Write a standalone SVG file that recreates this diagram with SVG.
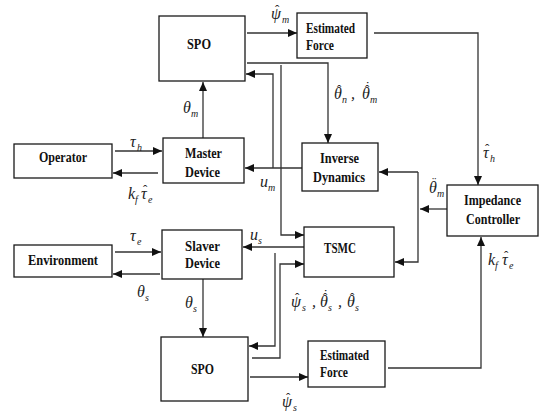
<svg xmlns="http://www.w3.org/2000/svg" width="550" height="418" viewBox="0 0 550 418">
<style>
.box{fill:#fff;stroke:#1a1a1a;stroke-width:1.3}
.lbl{font-family:"Liberation Serif","DejaVu Serif","Times New Roman",serif;font-weight:bold;font-size:15px;fill:#111}
.mid{text-anchor:middle}
.m{font-family:"Liberation Serif","DejaVu Serif","Times New Roman",serif;font-style:italic;font-size:16px;fill:#222}
.s{font-size:10px}
.ac{font-style:normal;font-size:13px}
.c{fill:none;stroke:#333;stroke-width:1.3}
.a{marker-end:url(#ah)}
</style>
<defs>
<marker id="ah" markerWidth="9" markerHeight="8" refX="9" refY="4" orient="auto" markerUnits="userSpaceOnUse">
<path d="M0,0 L9,4 L0,8 z" fill="#111"/>
</marker>
</defs>
<rect width="550" height="418" fill="#fff"/>
<g id="connectors">
<path class="c a" d="M247,33 H297"/>
<path class="c a" d="M247,63 H328 V143"/>
<path class="c a" d="M281,65 V235 H304"/>
<path class="c a" d="M302,168 H245"/>
<path class="c a" d="M273,168 V74 H246"/>
<path class="c a" d="M374,33 H478 V185"/>
<path class="c a" d="M203,138 V82"/>
<path class="c a" d="M115,151 H162"/>
<path class="c a" d="M158,173 H113"/>
<path class="c a" d="M447,209 H420"/>
<path class="c a" d="M418,172 H379"/>
<path class="c a" d="M418,172 V262 H395"/>
<path class="c a" d="M304,247 H243"/>
<path class="c a" d="M275,253 V346 H249"/>
<path class="c a" d="M252,358 H280 V264 H304"/>
<path class="c a" d="M250,377 H308"/>
<path class="c a" d="M388,368 H481 V237"/>
<path class="c a" d="M115,252 H161"/>
<path class="c a" d="M160,274 H113"/>
<path class="c a" d="M203,279 V337"/>
</g>
<g id="spo_master"><rect class="box" x="159" y="16" width="86" height="65"/><text class="lbl" x="187" y="49" textLength="24" lengthAdjust="spacingAndGlyphs">SPO</text></g>
<g id="est_force_master"><rect class="box" x="297" y="13" width="70" height="45"/><text class="lbl" x="306" y="33" textLength="49" lengthAdjust="spacingAndGlyphs">Estimated</text><text class="lbl" x="306" y="50" textLength="28" lengthAdjust="spacingAndGlyphs">Force</text></g>
<g id="operator"><rect class="box" x="14" y="144" width="98" height="34"/><text class="lbl" x="39" y="162" textLength="48" lengthAdjust="spacingAndGlyphs">Operator</text></g>
<g id="master_device"><rect class="box" x="163" y="138" width="81" height="45"/><text class="lbl" x="185" y="158" textLength="37" lengthAdjust="spacingAndGlyphs">Master</text><text class="lbl" x="185" y="177" textLength="35" lengthAdjust="spacingAndGlyphs">Device</text></g>
<g id="inverse_dynamics"><rect class="box" x="302" y="143" width="76" height="48"/><text class="lbl" x="320" y="163" textLength="39" lengthAdjust="spacingAndGlyphs">Inverse</text><text class="lbl" x="313" y="182" textLength="52" lengthAdjust="spacingAndGlyphs">Dynamics</text></g>
<g id="impedance_controller"><rect class="box" x="447" y="185" width="91" height="51"/><text class="lbl" x="464" y="205" textLength="57" lengthAdjust="spacingAndGlyphs">Impedance</text><text class="lbl" x="466" y="224" textLength="54" lengthAdjust="spacingAndGlyphs">Controller</text></g>
<g id="tsmc"><rect class="box" x="304" y="227" width="90" height="50"/><text class="lbl" x="324" y="253" textLength="32" lengthAdjust="spacingAndGlyphs">TSMC</text></g>
<g id="environment"><rect class="box" x="14" y="245" width="98" height="32"/><text class="lbl" x="28" y="265" textLength="70" lengthAdjust="spacingAndGlyphs">Environment</text></g>
<g id="slaver_device"><rect class="box" x="162" y="230" width="80" height="49"/><text class="lbl" x="185" y="251" textLength="35" lengthAdjust="spacingAndGlyphs">Slaver</text><text class="lbl" x="185" y="268" textLength="35" lengthAdjust="spacingAndGlyphs">Device</text></g>
<g id="spo_slave"><rect class="box" x="161" y="337" width="87" height="64"/><text class="lbl" x="191" y="374" textLength="23" lengthAdjust="spacingAndGlyphs">SPO</text></g>
<g id="est_force_slave"><rect class="box" x="308" y="341" width="77" height="46"/><text class="lbl" x="320" y="360" textLength="49" lengthAdjust="spacingAndGlyphs">Estimated</text><text class="lbl" x="320" y="377" textLength="28" lengthAdjust="spacingAndGlyphs">Force</text></g>
<g id="labels">
<text class="m"><tspan x="271" y="19">ψ</tspan><tspan class="ac" x="275" y="14">ˆ</tspan><tspan class="s" x="282" y="23">m</tspan></text>
<text class="m"><tspan x="334" y="99">θ</tspan><tspan class="ac" x="337" y="94">ˆ</tspan><tspan class="s" x="342" y="103">n</tspan><tspan x="351" y="99">,</tspan><tspan x="362" y="99">θ</tspan><tspan class="ac" x="365" y="94">ˆ</tspan><tspan class="ac" x="365.5" y="90">˙</tspan><tspan class="s" x="370" y="103">m</tspan></text>
<text class="m"><tspan x="183" y="113">θ</tspan><tspan class="s" x="191" y="117">m</tspan></text>
<text class="m"><tspan x="130" y="147">τ</tspan><tspan class="s" x="137" y="151">h</tspan></text>
<text class="m"><tspan x="128" y="199">k</tspan><tspan class="s" x="135" y="203">f</tspan><tspan x="141" y="199">τ</tspan><tspan class="ac" x="143" y="194">ˆ</tspan><tspan class="s" x="148" y="203">e</tspan></text>
<text class="m"><tspan x="260" y="187">u</tspan><tspan class="s" x="268" y="191">m</tspan></text>
<text class="m"><tspan x="483" y="158">τ</tspan><tspan class="ac" x="485" y="153">ˆ</tspan><tspan class="s" x="490" y="162">h</tspan></text>
<text class="m"><tspan x="429" y="193">θ</tspan><tspan class="ac" x="432" y="186">¨</tspan><tspan class="s" x="437" y="197">m</tspan></text>
<text class="m"><tspan x="250" y="240">u</tspan><tspan class="s" x="258" y="244">s</tspan></text>
<text class="m"><tspan x="130" y="241">τ</tspan><tspan class="s" x="137" y="245">e</tspan></text>
<text class="m"><tspan x="137" y="297">θ</tspan><tspan class="s" x="145" y="301">s</tspan></text>
<text class="m"><tspan x="185" y="308">θ</tspan><tspan class="s" x="193" y="312">s</tspan></text>
<text class="m"><tspan x="291" y="307">ψ</tspan><tspan class="ac" x="295" y="302">ˆ</tspan><tspan class="s" x="302" y="311">s</tspan><tspan x="312" y="307">,</tspan><tspan x="320" y="307">θ</tspan><tspan class="ac" x="323" y="302">ˆ</tspan><tspan class="ac" x="323.5" y="298">˙</tspan><tspan class="s" x="328" y="311">s</tspan><tspan x="338" y="307">,</tspan><tspan x="347" y="307">θ</tspan><tspan class="ac" x="350" y="302">ˆ</tspan><tspan class="s" x="355" y="311">s</tspan></text>
<text class="m"><tspan x="488" y="265">k</tspan><tspan class="s" x="495" y="269">f</tspan><tspan x="502" y="265">τ</tspan><tspan class="ac" x="504" y="260">ˆ</tspan><tspan class="s" x="509" y="269">e</tspan></text>
<text class="m"><tspan x="282" y="407">ψ</tspan><tspan class="ac" x="286" y="402">ˆ</tspan><tspan class="s" x="293" y="411">s</tspan></text>
</g>
</svg>
